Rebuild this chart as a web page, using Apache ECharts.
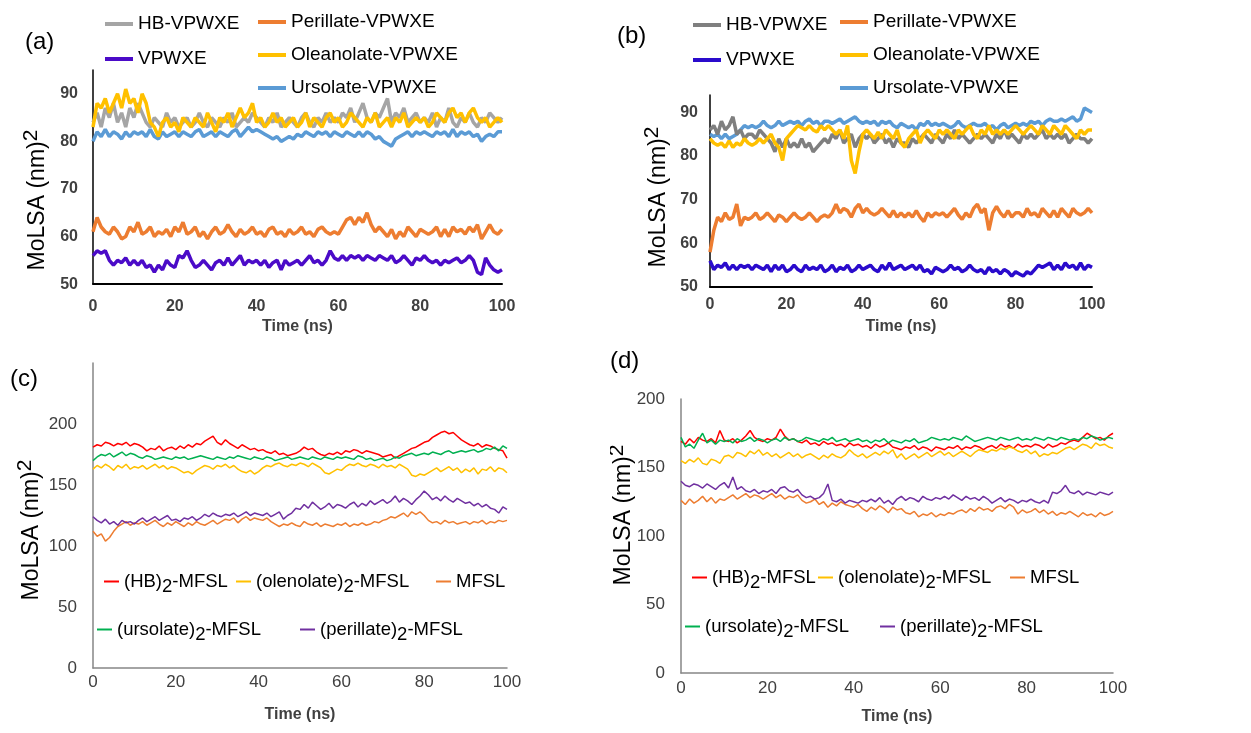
<!DOCTYPE html>
<html>
<head>
<meta charset="utf-8">
<script src="https://cdn.jsdelivr.net/npm/echarts@6.0.0/dist/echarts.min.js"></script>
<style>
  html, body { margin: 0; padding: 0; background: #fff; }
  .panel { position: absolute; }
</style>
</head>
<body>
<div id="pa" class="panel" style="left:0;top:0;width:610px;height:340px"></div>
<div id="pb" class="panel" style="left:610px;top:0;width:641px;height:340px"></div>
<div id="pc" class="panel" style="left:0;top:340px;width:610px;height:393px"></div>
<div id="pd" class="panel" style="left:610px;top:340px;width:641px;height:393px"></div>
<script>
// time axis (ns)
var timeNs = [0,1,2,3,4,5,6,7,8,9,10,11,12,13,14,15,16,17,18,19,20,21,22,23,24,25,26,27,28,29,30,
  31,32,33,34,35,36,37,38,39,40,41,42,43,44,45,46,47,48,49,50,51,52,53,54,55,56,57,58,59,60,
  61,62,63,64,65,66,67,68,69,70,71,72,73,74,75,76,77,78,79,80,81,82,83,84,85,86,87,88,89,90,
  91,92,93,94,95,96,97,98,99,100];

// (a) VPWXE complexes
var hbA = [84,86,83,87,85,88,84,86,83,87,85,88,86,
  84,83,85,84,83,86,84,85,
  83,84,85,83,84,86,84,83,85,84,83,85,84,86,83,84,85,84,86,85,
  84,83,85,84,86,83,84,85,84,83,85,86,84,83,85,84,86,84,85,84,
  86,85,87,84,86,88,85,84,86,85,87,89,84,86,85,87,84,85,86,84,
  85,84,86,83,85,84,87,84,83,85,84,86,84,83,85,84,86,85,84,85];
var vpwxeA = [56,57,56.5,57,55,54,55,54.5,55.5,54,55,
  54,55,53.5,54,52.5,54,53,55,54,53.5,
  56,55.5,57,55,53.5,54,55,54,53,54.5,
  55,54,55.5,54,55,56,54,55,54.5,55,
  54,55,53.5,54.5,55,53,55,54,54.5,55,
  54,55,56,54.5,55,54,55,57,55.5,55,
  56,55,56,55.5,56,55,56,55.5,55,56,
  55.5,55,56,54.5,55,56,55,54,55.5,55,
  56,55,54.5,55,54,55,54.5,55,55.5,54.5,
  55,56,55,52.5,52,55.5,54,53,52.5,53];
var perillateA = [61,64,62,61,60.5,62,61,59.5,60,62,61,
  63,60.5,61,62,60,61,60.5,61.5,60,62,
  61,63,60.5,61,62,60,61,59.5,61,62,
  60.5,61,62.5,61,60,61.5,60.5,61,62,60.5,
  61,60,61.5,62,60.5,61,60,61.5,60.5,61,
  62,60.5,61,60,61.5,62,61,60.5,61,60.5,
  62,63.5,64,62.5,64,63,65,62.5,61,62,
  61,60,61.5,59.5,61,60,62,61,60,61.5,
  61,60.5,61,62,60,61.5,60,62,61,61.5,
  60.5,62,61,62.5,59.5,61,62.5,61,60.5,61.5];
var oleanolateA = [83,88,87,89,86,88,90,87,91,88,89,
  86,90,88,84,83,81,84,85,83,84,
  82,85,84,83,85,84,83,86,84,82,
  85,84,86,83,85,87,85,86,88,84,
  85,83,84,86,84,85,83,84,85,83,
  84,86,83,85,84,83,85,86,84,85,
  83,84,86,85,84,83,85,84,86,83,
  84,85,83,85,84,86,83,84,85,84,
  85,83,84,86,85,84,86,87,85,86,
  84,86,87,85,84,85,83,84,85,84];
var ursolateA = [80,82,81,82.5,81,82,81.5,80.5,82,81,82,
  81.5,82,81,82.5,81,80.5,82,81,81.5,82,
  81,82,81.5,81,82,82.5,81,81.5,82,81,
  82,81.5,81,82,82.5,81,82,83,82,82.5,
  82,81.5,81,80.5,81,80,80.5,81,80.5,81.5,
  81,82,81.5,81,82,81.5,82,81,82,81.5,
  81,82,81.5,81,82,81,82,81.5,80.5,81,
  80,79.5,79,80.5,81,81.5,82,81,82,81.5,
  82,81.5,81,82,81.5,82,81,82.5,81,82,
  81.5,82,81,81.5,80,81,81.5,81,82,82];

// (b) VPWXE complexes
var hbB = [86,87,85,88,86,87,89,85,86,84,85,
  85,84,86,85,84,83,81,84,82,84,
  82,83,82,84,82,83,81,82,83,84,
  83,85,84,86,83,84,85,82,84,85,
  84,85,83,84,85,83,84,82,84,83,
  83,82,84,83,84,85,84,83,85,84,
  83,85,84,86,84,85,84,83,84,85,
  84,85,84,83,85,84,86,84,85,84,
  83,85,84,85,84,85,86,84,85,84,
  85,84,85,83,84,85,84,84,83,84];
var vpwxeB = [56,54,55,54.5,55.5,54,55,54,55,54.5,55,
  54,55,54.5,54,55,53.5,55,54,55,53.5,
  54,55,54,53.5,55,54,54.5,54,55,53.5,
  54,55,53.5,54.5,54,55,53.5,54,55,54,
  54.5,55,54,53.5,55,54,55.5,54,54.5,55,
  54,54.5,55,54,55,53.5,54,53,54.5,54,
  53.5,54,55,54,54.5,53.5,54,55,54,53.5,
  54,53,54.5,53.5,54,53,54,53.5,52.5,53.5,
  53,52.5,53.5,53,54,55,54.5,55,55.5,54,
  55,54,55.5,54.5,55,54,55.5,54,55,54.5];
var perillateB = [58,63,66,65,67,65.5,66,69,64,66,65.5,
  66,67,65.5,66,67,66,65,66.5,66,65,
  66,67,66,65.5,66,67,66,65,66,66.5,
  66,67,69,67,68,67.5,66,68,69,67,
  68,67,66.5,67,68,67,66,67.5,66,67,
  66,67,66,67.5,66,65,67,66,67,66.5,
  67,66,67,68,66.5,65.5,67,66,68,69,
  67,68,63,67,68.5,67,66,67.5,66,67,
  67,66,68,66.5,67,66,68,67,66,67.5,
  66,68,67,66,68,67,66.5,67,68,67];
var oleanolateB = [84,83,82.5,83,82,83.5,82,83,82.5,84,83,
  82.5,83,84,83,84,85,83,82,79,84,
  85,86,87,86.5,86,87,86,85.5,87,86,
  87,86,85,86,84,87,79,76,81,85,
  86,85,84,85.5,84,86,85,84,86,83,
  82,84,85,86,83,85,86,85,84,86,
  85,86,85,84,86,85,86,87,85,84,
  86,85,87,85,86,85,86,85,86,87,
  86,85,86,87,86,85,87,86,85,87,
  86,85,87,86,85,84,86,85,86,86];
var ursolateB = [85,84.5,85,84,85,84,84.5,85,86,87,86.5,
  87,86.5,87,88,87,86.5,87,88,87,87.5,
  88,87.5,88,87,88,88.5,87.5,88,87,88,
  88,87.5,88,88.5,87.5,88,88.5,89,88,87.5,
  88,87.5,88,87,88,87.5,88,87,86.5,87.5,
  87,86.5,87,86,87.5,87,88,87,87.5,87,
  87.5,87,86.5,87,88,87,86.5,87,87.5,87,
  87,87.5,86.5,87,86,87,87.5,86.5,87,87.5,
  87,87.5,87,88,87.5,88,87,88,88.5,88,
  88,88.5,88,88.5,89,88,88.5,91,90.5,90];

// (c) MFSL complexes
var hbC = [181,183,182,185,184,182,184,183,185,182,184,
  183,181,178,180,179,182,178,180,181,179,
  182,180,183,181,184,183,186,188,190,185,
  183,187,184,182,180,183,181,179,180,178,
  179,177,176,178,175,176,174,175,176,178,
  181,179,180,177,175,174,176,175,177,175,
  178,177,179,178,176,178,177,176,175,173,
  174,175,172,174,176,178,180,181,183,185,
  186,189,191,193,194,192,193,190,187,185,
  183,182,184,181,183,182,180,179,178,172];
var olenolateC = [163,166,164,167,165,162,166,164,167,163,165,
  164,166,163,165,167,164,166,163,165,164,
  162,160,161,159,162,164,166,165,163,166,
  165,167,164,166,163,161,160,162,159,161,
  164,166,165,167,168,166,165,167,166,168,
  167,165,168,166,164,160,159,161,163,162,
  165,167,166,168,166,165,167,166,164,167,
  165,166,164,167,165,163,158,157,159,158,
  160,162,164,161,163,165,162,164,160,163,
  161,164,159,163,162,165,161,164,163,160];
var mfslC = [112,108,110,104,107,112,116,118,120,117,119,
  118,120,117,119,121,118,116,119,117,120,
  118,116,119,117,120,118,117,119,121,118,
  120,122,121,123,119,122,124,121,123,122,
  121,123,120,118,116,118,117,119,117,116,
  120,118,117,119,116,118,117,116,118,117,
  119,116,118,117,119,117,118,120,119,121,
  122,124,123,125,127,124,128,126,128,125,
  121,119,120,118,121,119,120,118,119,120,
  118,120,119,121,118,120,119,121,120,121];
var ursolateC = [170,173,175,174,176,173,175,177,174,176,175,
  173,172,174,173,171,172,173,172,171,173,
  172,173,171,172,173,174,173,172,171,173,
  172,171,173,172,174,173,172,171,173,172,
  171,173,172,170,171,172,173,171,172,173,
  172,171,173,172,171,173,172,171,173,172,
  173,172,171,174,173,171,172,170,171,172,
  170,171,173,172,174,175,176,174,175,176,
  175,177,176,175,177,178,176,177,178,177,
  178,179,177,178,180,179,181,178,182,180];
var perillateC = [124,121,119,122,118,120,117,121,119,120,118,
  121,123,120,122,124,121,123,125,121,122,
  120,123,122,124,121,123,126,124,127,125,
  124,126,125,127,124,126,128,125,127,126,
  125,127,124,126,128,122,125,127,131,130,
  134,131,136,133,130,132,135,131,134,133,
  131,134,136,132,135,133,137,134,136,138,
  135,137,141,136,139,137,134,138,141,145,
  142,138,140,137,141,138,136,139,137,135,
  136,133,135,132,134,131,130,127,132,130];

// (d) MFSL complexes
var hbD = [169,167,171,168,172,170,169,171,168,177,170,
  169,171,168,170,173,177,172,170,169,171,
  170,172,178,173,170,171,169,168,170,167,
  168,166,169,167,168,166,167,165,168,166,
  167,165,166,164,167,165,166,168,165,164,
  163,165,164,166,163,165,164,162,165,164,
  163,165,164,166,163,165,164,166,165,163,
  165,166,164,167,165,166,164,167,165,166,
  165,167,166,164,167,165,166,168,167,169,
  170,169,172,175,173,171,172,170,173,175];
var olenolateD = [155,153,156,154,157,153,152,156,155,153,158,
  159,157,161,160,158,162,160,163,159,161,
  158,160,157,159,161,158,160,157,159,160,
  158,156,159,157,160,158,157,159,163,160,
  158,160,157,159,161,159,162,160,163,157,
  160,156,158,160,157,159,161,158,160,162,
  159,161,158,160,162,160,158,161,163,162,
  161,163,162,164,163,165,164,162,161,163,
  160,162,158,160,159,161,160,162,164,165,
  163,165,167,166,164,168,166,167,165,164];
var mfslD = [126,123,127,124,126,129,125,128,124,127,126,
  128,130,127,129,131,128,130,129,127,129,
  131,128,130,127,129,128,130,126,124,125,
  127,123,125,121,124,122,125,123,122,121,
  123,120,118,121,119,122,120,117,121,119,
  120,117,116,118,114,116,115,117,114,116,
  115,117,116,118,119,117,120,118,121,119,
  120,118,121,122,120,123,121,116,119,117,
  118,120,117,119,116,118,115,117,116,118,
  116,114,117,115,116,114,117,115,116,118];
var ursolateD = [172,165,167,164,170,175,168,170,167,170,169,
  170,168,171,169,170,172,169,171,170,168,
  170,171,169,172,170,171,169,170,172,171,
  170,169,171,170,172,169,170,171,169,170,
  171,169,170,168,170,169,171,168,170,169,
  168,170,169,171,168,169,170,172,171,170,
  171,170,172,171,170,173,171,169,170,171,
  172,171,170,172,171,170,171,172,170,171,
  170,172,171,170,172,171,170,172,171,170,
  171,170,172,171,173,172,170,171,172,171];
var perillateD = [140,137,136,138,137,135,138,136,134,137,139,
  135,143,134,136,133,132,134,131,133,132,
  134,131,135,136,133,132,134,130,128,129,
  127,128,131,138,126,125,127,124,126,125,
  124,126,125,127,125,128,124,126,123,127,
  129,126,128,127,125,129,127,126,128,127,
  129,127,130,128,126,129,127,128,126,129,
  127,124,126,128,125,127,126,124,126,125,
  127,125,124,126,124,132,131,133,137,132,
  131,133,130,132,131,130,132,131,130,132];

var NARROW = '"Liberation Sans Narrow", "Liberation Sans", Arial, sans-serif';
var SANS = '"Liberation Sans", Arial, sans-serif';

function line(name, arr, color, width) {
  return {
    name: name, type: 'line', symbol: 'none', showSymbol: false,
    data: timeNs.map(function (t, i) { return [t, arr[i]]; }),
    lineStyle: { color: color, width: width }, itemStyle: { color: color },
    emphasis: { disabled: true }
  };
}

function subFmt(name) {
  var m = name.match(/^(.*\))2(-MFSL)$/);
  if (m) return '{t|' + m[1] + '}{s|2}{t|' + m[2] + '}';
  return '{t|' + name + '}';
}

function yName(x, y) {
  return {
    type: 'text', x: x, y: y, rotation: Math.PI / 2,
    style: {
      text: '{t|MoLSA (nm)}{s|2}',
      align: 'center', verticalAlign: 'middle', fill: '#000',
      rich: {
        t: { fontSize: 23, fontFamily: SANS, lineHeight: 34, fill: '#000' },
        s: { fontSize: 21, fontFamily: SANS, lineHeight: 20, verticalAlign: 'top', fill: '#000' }
      }
    }
  };
}

function tag(text, x, y) {
  return { type: 'text', x: x, y: y, style: { text: text, fontSize: 24, fontFamily: SANS, fill: '#000' } };
}

function vLegend(names, x, y, gap) {
  return {
    data: names, orient: 'vertical', left: x, top: y, padding: 0, itemGap: gap,
    icon: 'rect', itemWidth: 28, itemHeight: 4,
    textStyle: { fontSize: 19, fontFamily: SANS, color: '#000', lineHeight: 24 },
    selectedMode: false
  };
}

function oneLegend(name, x, y) {
  return {
    data: [name], orient: 'horizontal', left: x, top: y - 15, padding: 0,
    icon: 'rect', itemWidth: 15, itemHeight: 2, itemGap: 0, selectedMode: false,
    formatter: subFmt,
    textStyle: {
      color: '#000',
      rich: {
        t: { fontSize: 18.5, fontFamily: SANS, lineHeight: 30, color: '#000' },
        s: { fontSize: 18.5, fontFamily: SANS, lineHeight: 14, verticalAlign: 'bottom', color: '#000' }
      }
    }
  };
}

function xAxisCfg(bold, lineColor, lineWidth, margin, nameGap) {
  return {
    type: 'value', min: 0, max: 100, interval: 20,
    axisLine: { show: true, lineStyle: { color: lineColor, width: lineWidth } },
    axisTick: { show: false }, splitLine: { show: false },
    axisLabel: { color: '#404040', fontSize: bold ? 16 : 17, fontWeight: bold ? 'bold' : 'normal', fontFamily: NARROW, margin: margin },
    name: 'Time (ns)', nameLocation: 'middle', nameGap: nameGap,
    nameTextStyle: { color: '#404040', fontSize: 16, fontWeight: 'bold', fontFamily: NARROW, verticalAlign: 'top' }
  };
}

function yAxisCfg(min, max, interval, bold, lineColor, margin, showMax) {
  return {
    type: 'value', min: min, max: max, interval: interval,
    axisLine: { show: true, lineStyle: { color: lineColor, width: 1.5 } },
    axisTick: { show: false }, splitLine: { show: false },
    axisLabel: { color: '#404040', fontSize: bold ? 16 : 17, fontWeight: bold ? 'bold' : 'normal', fontFamily: NARROW, margin: margin, showMaxLabel: showMax }
  };
}

// panel (a)
echarts.init(document.getElementById('pa')).setOption({
  animation: false,
  grid: { left: 93, top: 70, width: 409, height: 223 },
  xAxis: xAxisCfg(true, '#000', 2, 14, 32),
  yAxis: yAxisCfg(50, 95, 10, true, '#000', 15, false),
  legend: [
    vLegend(['HB-VPWXE', 'VPWXE'], 105, 12, 11),
    vLegend(['Perillate-VPWXE', 'Oleanolate-VPWXE', 'Ursolate-VPWXE'], 258, 10, 9)
  ],
  graphic: [tag('(a)', 25, 30), yName(38, 200)],
  series: [
    line('Ursolate-VPWXE', ursolateA, '#5B9BD5', 3.5),
    line('HB-VPWXE', hbA, '#A5A5A5', 3.5),
    line('Perillate-VPWXE', perillateA, '#ED7D31', 3.5),
    line('VPWXE', vpwxeA, '#4B0BC8', 3.5),
    line('Oleanolate-VPWXE', oleanolateA, '#FFC000', 3.5)
  ]
});

// panel (b)
echarts.init(document.getElementById('pb')).setOption({
  animation: false,
  grid: { left: 100, top: 95, width: 382, height: 198 },
  xAxis: xAxisCfg(true, '#000', 2, 10, 32),
  yAxis: yAxisCfg(50, 94, 10, true, '#000', 12, false),
  legend: [
    vLegend(['HB-VPWXE', 'VPWXE'], 83, 13, 11),
    vLegend(['Perillate-VPWXE', 'Oleanolate-VPWXE', 'Ursolate-VPWXE'], 230, 10, 9)
  ],
  graphic: [tag('(b)', 7, 24), yName(49, 197)],
  series: [
    line('Ursolate-VPWXE', ursolateB, '#5B9BD5', 3.5),
    line('HB-VPWXE', hbB, '#7F7F7F', 3.5),
    line('Perillate-VPWXE', perillateB, '#ED7D31', 3.5),
    line('VPWXE', vpwxeB, '#2A0BCC', 3.5),
    line('Oleanolate-VPWXE', oleanolateB, '#FFC000', 3.5)
  ]
});

// panel (c)
echarts.init(document.getElementById('pc')).setOption({
  animation: false,
  grid: { left: 93, top: 23, width: 414, height: 305 },
  xAxis: xAxisCfg(false, '#868686', 1.5, 6, 39),
  yAxis: yAxisCfg(0, 250, 50, false, '#868686', 16, false),
  legend: [
    oneLegend('(HB)2-MFSL', 104, 247),
    oneLegend('(olenolate)2-MFSL', 236, 247),
    oneLegend('MFSL', 436, 247),
    oneLegend('(ursolate)2-MFSL', 97, 295),
    oneLegend('(perillate)2-MFSL', 300, 295)
  ],
  graphic: [tag('(c)', 10, 27), yName(32, 190)],
  series: [
    line('(HB)2-MFSL', hbC, '#FF0000', 1.5),
    line('(olenolate)2-MFSL', olenolateC, '#FFC000', 1.5),
    line('MFSL', mfslC, '#ED7D31', 1.5),
    line('(ursolate)2-MFSL', ursolateC, '#00B050', 1.5),
    line('(perillate)2-MFSL', perillateC, '#7030A0', 1.5)
  ]
});

// panel (d)
echarts.init(document.getElementById('pd')).setOption({
  animation: false,
  grid: { left: 71, top: 59, width: 432, height: 274 },
  xAxis: xAxisCfg(false, '#868686', 1.5, 7, 36),
  yAxis: yAxisCfg(0, 200, 50, false, '#868686', 16, true),
  legend: [
    oneLegend('(HB)2-MFSL', 82, 243),
    oneLegend('(olenolate)2-MFSL', 208, 243),
    oneLegend('MFSL', 400, 243),
    oneLegend('(ursolate)2-MFSL', 75, 292),
    oneLegend('(perillate)2-MFSL', 270, 292)
  ],
  graphic: [tag('(d)', 0, 9), yName(14, 175)],
  series: [
    line('(HB)2-MFSL', hbD, '#FF0000', 1.5),
    line('(olenolate)2-MFSL', olenolateD, '#FFC000', 1.5),
    line('MFSL', mfslD, '#ED7D31', 1.5),
    line('(ursolate)2-MFSL', ursolateD, '#00B050', 1.5),
    line('(perillate)2-MFSL', perillateD, '#7030A0', 1.5)
  ]
});
</script>
</body>
</html>
